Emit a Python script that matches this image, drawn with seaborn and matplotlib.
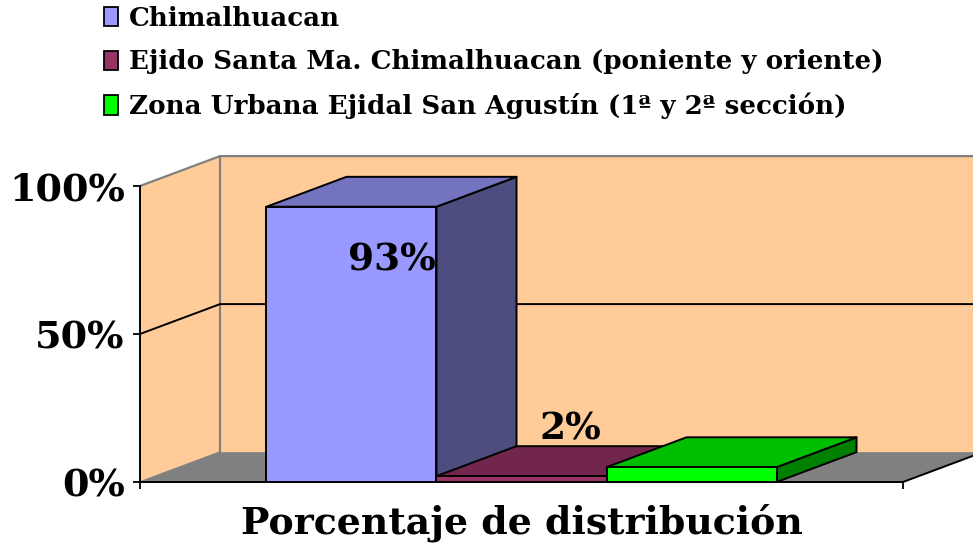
import matplotlib
matplotlib.use("Agg")
import matplotlib.pyplot as plt
from matplotlib.patches import Polygon, Patch
import seaborn as sns
import pandas as pd

# ---- data ----
category = "Porcentaje de distribución"
series = ["Chimalhuacan",
          "Ejido Santa Ma. Chimalhuacan (poniente y oriente)",
          "Zona Urbana Ejidal San Agustín (1ª y 2ª sección)"]
values = [93, 2, 5]
value_labels = ["93%", "2%", ""]
y_ticks = [0, 50, 100]
y_tick_labels = ["0%", "50%", "100%"]

# ---- style ----
front_colors = ["#9999FF", "#993366", "#00FF00"]
top_colors = ["#7373BF", "#73264D", "#00BF00"]
side_colors = ["#4D4D80", "#4D1A33", "#008000"]
WALL = "#FFCC99"
FLOOR = "#808080"
EDGE_GREY = "#808080"
DEPTH_X = 0.1255   # category units
DEPTH_Y = 10.1     # percent units
XLIM = (-0.5984, 0.5984)

sns.set_theme(style="white")
plt.rcParams["font.family"] = ["DejaVu Serif"]
plt.rcParams["font.weight"] = "bold"
for k in ("text.color", "axes.labelcolor", "xtick.color", "ytick.color"):
    plt.rcParams[k] = "black"

W, H = 973, 548
fig = plt.figure(figsize=(W / 100, H / 100), dpi=100)
ax = fig.add_axes([140 / W, (H - 482) / H, 763 / W, 296 / H])
ax.set_facecolor("none")

df = pd.DataFrame({"cat": [category] * len(values), "serie": series, "valor": values})
sns.barplot(data=df, x="cat", y="valor", hue="serie", hue_order=series,
            palette=front_colors, width=0.8, dodge=True, saturation=1,
            edgecolor="black", linewidth=1.4, legend=False, ax=ax)

ax.set_xlim(*XLIM)
ax.set_ylim(0, 100)
x0, x1 = XLIM

# walls and floor
left_wall = Polygon([(x0, 0), (x0, 100), (x0 + DEPTH_X, 100 + DEPTH_Y), (x0 + DEPTH_X, DEPTH_Y)],
                    closed=True, facecolor=WALL, edgecolor="none", zorder=0.5, clip_on=False)
back_wall = Polygon([(x0 + DEPTH_X, DEPTH_Y), (x0 + DEPTH_X, 100 + DEPTH_Y),
                     (x1 + DEPTH_X, 100 + DEPTH_Y), (x1 + DEPTH_X, DEPTH_Y)],
                    closed=True, facecolor=WALL, edgecolor="none", zorder=0.5, clip_on=False)
floor = Polygon([(x0, 0), (x0 + DEPTH_X, DEPTH_Y), (x1 + DEPTH_X, DEPTH_Y), (x1, 0)],
                closed=True, facecolor=FLOOR, edgecolor="none", zorder=0.6, clip_on=False)
for p in (left_wall, back_wall, floor):
    ax.add_patch(p)
# wall edges
ax.plot([x0, x0 + DEPTH_X, x1 + DEPTH_X], [100, 100 + DEPTH_Y, 100 + DEPTH_Y],
        color=EDGE_GREY, lw=1.6, zorder=0.8, clip_on=False)
ax.plot([x0 + DEPTH_X, x0 + DEPTH_X], [DEPTH_Y, 100 + DEPTH_Y],
        color=EDGE_GREY, lw=1.6, zorder=0.8, clip_on=False)
ax.plot([x0, x0 + DEPTH_X], [0, DEPTH_Y], color=EDGE_GREY, lw=1.2, zorder=0.8, clip_on=False)
ax.plot([x1, x1 + DEPTH_X], [0, DEPTH_Y], color="black", lw=1.4, zorder=0.8, clip_on=False)
# 50% gridline
for t in y_ticks[1:-1]:
    ax.plot([x0, x0 + DEPTH_X, x1 + DEPTH_X], [t, t + DEPTH_Y, t + DEPTH_Y],
            color="black", lw=1.4, zorder=0.8, clip_on=False)

# 3D faces for each bar
for i, container in enumerate(ax.containers):
    for bar in container:
        bx = bar.get_x()
        bw = bar.get_width()
        bh = bar.get_height()
        z = 3 + i
        bar.set_zorder(z + 0.2)
        top = Polygon([(bx, bh), (bx + DEPTH_X, bh + DEPTH_Y), (bx + bw + DEPTH_X, bh + DEPTH_Y), (bx + bw, bh)],
                      closed=True, facecolor=top_colors[i], edgecolor="black", lw=1.4,
                      zorder=z, clip_on=False, joinstyle="round")
        side = Polygon([(bx + bw, 0), (bx + bw, bh), (bx + bw + DEPTH_X, bh + DEPTH_Y), (bx + bw + DEPTH_X, DEPTH_Y)],
                       closed=True, facecolor=side_colors[i], edgecolor="black", lw=1.4,
                       zorder=z, clip_on=False, joinstyle="round")
        ax.add_patch(side)
        ax.add_patch(top)
        lab = value_labels[i]
        if lab:
            cx = bx + bw / 2 + DEPTH_X / 2
            cy = bh + DEPTH_Y / 2
            if bh > 80:
                ax.annotate(lab, (cx, cy), xytext=(0, -36), textcoords="offset points",
                            ha="center", va="top", fontsize=27, fontweight="bold",
                            color="black", zorder=10, annotation_clip=False)
            else:
                ax.annotate(lab, (cx, cy), xytext=(6, 10), textcoords="offset points",
                            ha="center", va="bottom", fontsize=27, fontweight="bold",
                            color="black", zorder=10, annotation_clip=False)

# axes / ticks
for s in ("top", "right"):
    ax.spines[s].set_visible(False)
for s in ("left", "bottom"):
    ax.spines[s].set_color("black")
    ax.spines[s].set_linewidth(1.4)
    ax.spines[s].set_zorder(2)
ax.set_yticks(y_ticks)
ax.set_yticklabels(y_tick_labels, fontsize=27.5, fontweight="bold", color="black")
ax.set_xticks([x0, x1])
ax.set_xticklabels(["", ""])
ax.tick_params(axis="y", direction="out", length=5, width=1.3, color="black", pad=6, left=True)
ax.tick_params(axis="x", direction="out", length=5, width=1.3, color="black", bottom=True)
ax.set_ylabel("")
ax.set_xlabel(category, fontsize=27.3, fontweight="bold", labelpad=7, color="black")

# legend
handles = [Patch(facecolor=c, edgecolor="black", lw=1.3) for c in front_colors]
leg = fig.legend(handles, series, loc="upper left", bbox_to_anchor=(104 / W, 1 - 6 / H),
                 frameon=False, handlelength=0.55, handleheight=0.75,
                 handletextpad=0.4, labelspacing=0.7, borderpad=0, borderaxespad=0,
                 prop={"weight": "bold", "size": 18.8})
for t in leg.get_texts():
    t.set_color("black")

fig.savefig("out.png", dpi=100)
